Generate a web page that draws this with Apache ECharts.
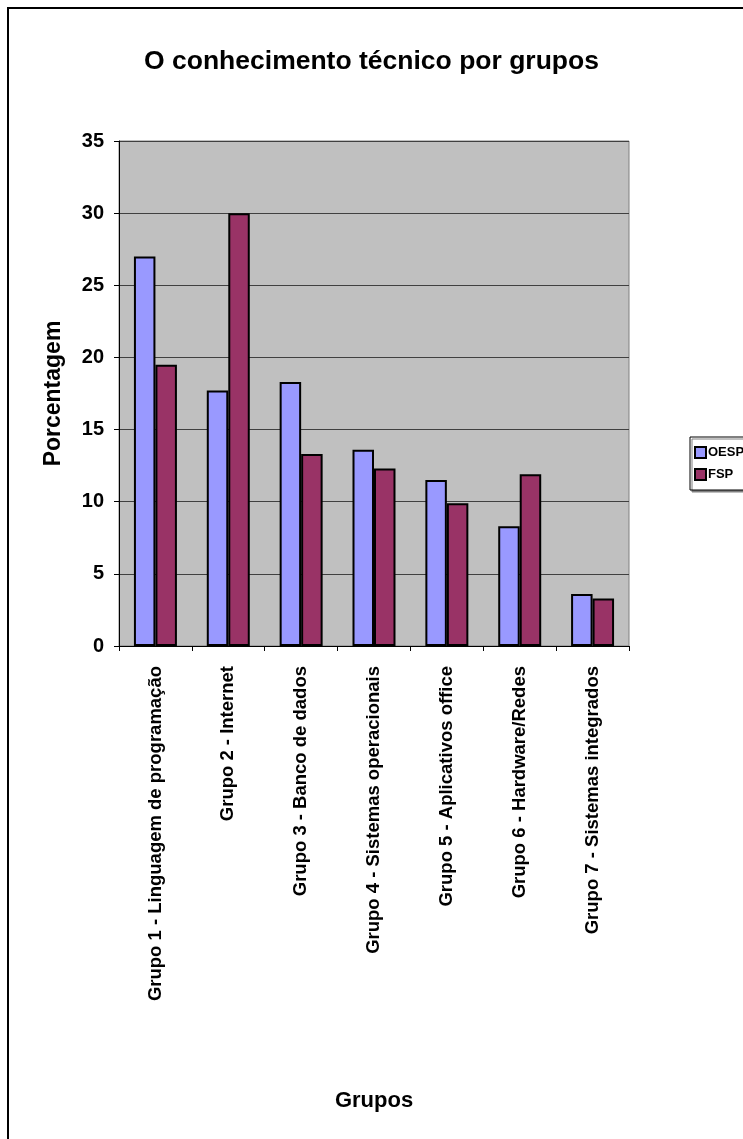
<!DOCTYPE html>
<html>
<head>
<meta charset="utf-8">
<script src="https://cdn.jsdelivr.net/npm/echarts@6/dist/echarts.min.js"></script>
<style>
  html, body { margin: 0; padding: 0; background: #fff; }
  #chart { width: 743px; height: 1139px; }
</style>
</head>
<body>
<div id="chart"></div>
<script>
const groups = [
  'Grupo 1 - Linguagem de programação',
  'Grupo 2 - Internet',
  'Grupo 3 - Banco de dados',
  'Grupo 4 - Sistemas operacionais',
  'Grupo 5 - Aplicativos office',
  'Grupo 6 - Hardware/Redes',
  'Grupo 7 - Sistemas integrados'
]
const oesp = [27.0, 17.7, 18.3, 13.6, 11.5, 8.3, 3.6]
const fsp = [19.5, 30.0, 13.3, 12.3, 9.9, 11.9, 3.3]

const font = "'Liberation Sans', Arial, sans-serif"

const chart = echarts.init(document.getElementById('chart'), null, { renderer: 'canvas' })

chart.setOption({
  animation: false,
  textStyle: { fontFamily: font },
  title: {
    text: 'O conhecimento técnico por grupos',
    left: 'center',
    top: 43,
    textStyle: { fontFamily: font, fontSize: 26.5, fontWeight: 'bold', color: '#000' }
  },
  // outer frame of the chart area
  graphic: [
    {
      type: 'rect',
      shape: { x: 8, y: 8, width: 800, height: 1200 },
      style: { fill: 'none', stroke: '#000', lineWidth: 2 },
      silent: true
    }
  ],
  legend: {
    orient: 'vertical',
    left: 690,
    top: 437,
    itemWidth: 11,
    itemHeight: 11,
    itemGap: 9,
    padding: [9, 20, 9, 4],
    backgroundColor: '#fff',
    borderColor: '#000',
    borderWidth: 1,
    shadowColor: '#808080',
    shadowOffsetX: 2,
    shadowOffsetY: 2,
    icon: 'rect',
    textStyle: { fontFamily: font, fontSize: 13, fontWeight: 'bold', color: '#000', padding: [0, 0, 0, -3] },
    data: ['OESP', 'FSP']
  },
  grid: {
    left: 119,
    top: 141,
    right: 114,
    bottom: 493,
    show: true,
    backgroundColor: '#c0c0c0',
    borderColor: '#808080',
    borderWidth: 1,
    containLabel: false
  },
  xAxis: {
    type: 'category',
    data: groups,
    name: 'Grupos',
    nameLocation: 'middle',
    nameGap: 444,
    nameTextStyle: { fontFamily: font, fontSize: 22, fontWeight: 'bold', color: '#000' },
    axisLine: { lineStyle: { color: '#000', width: 1 } },
    axisTick: { show: true, alignWithLabel: false, length: 5, lineStyle: { color: '#000' } },
    axisLabel: {
      rotate: 90,
      margin: 20,
      interval: 0,
      fontFamily: font,
      fontSize: 18.5,
      fontWeight: 'bold',
      color: '#000'
    },
    splitLine: { show: false }
  },
  yAxis: {
    type: 'value',
    min: 0,
    max: 35,
    interval: 5,
    name: 'Porcentagem',
    nameLocation: 'middle',
    nameRotate: 90,
    nameGap: 54,
    nameTextStyle: { fontFamily: font, fontSize: 23, fontWeight: 'bold', color: '#000' },
    axisLine: { show: true, lineStyle: { color: '#000', width: 1 } },
    axisTick: { show: true, length: 5, lineStyle: { color: '#000' } },
    axisLabel: { margin: 15, fontFamily: font, fontSize: 20, fontWeight: 'bold', color: '#000' },
    splitLine: { show: true, lineStyle: { color: '#404040', width: 1 } }
  },
  series: [
    {
      name: 'OESP',
      type: 'bar',
      data: oesp,
      barGap: '0%',
      barCategoryGap: '41%',
      itemStyle: { color: '#9999ff', borderColor: '#000', borderWidth: 2 }
    },
    {
      name: 'FSP',
      type: 'bar',
      data: fsp,
      barGap: '0%',
      barCategoryGap: '41%',
      itemStyle: { color: '#993366', borderColor: '#000', borderWidth: 2 }
    }
  ]
})
</script>
</body>
</html>
